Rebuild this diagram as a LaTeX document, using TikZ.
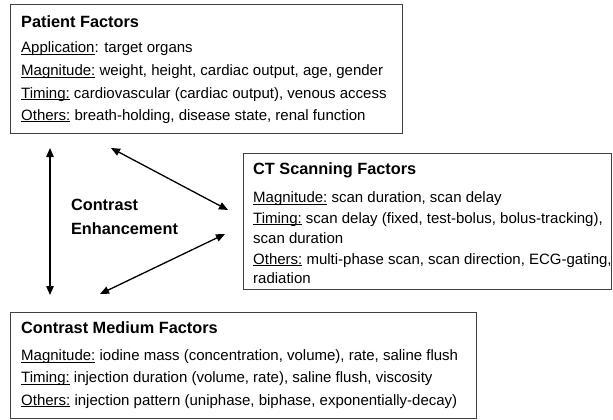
\documentclass[tikz,border=0pt]{standalone}
\usepackage{fontspec}
\setmainfont{Liberation Sans}
\usetikzlibrary{arrows.meta}

\newcommand{\lbl}[1]{\underline{\smash{#1}}}

\tikzset{
  box/.style={draw=black!75, line width=1.2pt, anchor=north west, inner sep=0pt},
  head/.style={anchor=base west, inner sep=0pt, font=\fontsize{16.3}{19}\selectfont\bfseries},
  txt/.style={anchor=base west, inner sep=0pt, font=\fontsize{15}{17}\selectfont},
  link/.style={{Triangle[length=9pt,width=7.5pt]}-{Triangle[length=9pt,width=7.5pt]}, line width=1.3pt},
}

\begin{document}
\begin{tikzpicture}[x=1pt,y=-1pt]
    \useasboundingbox (0,0) rectangle (613,420);

    % patient factors
    \node[box, minimum width=392pt, minimum height=129pt] (patient) at (10,4) {};
    \node[head] (ptitle) at (21,28) {Patient Factors};
    \node[txt] (p1) at (21,53) {\lbl{Application}: target organs};
    \node[txt] (p2) at (21,75.5) {\lbl{Magnitude:} weight, height, cardiac output, age, gender};
    \node[txt] (p3) at (21,98) {\lbl{Timing:} cardiovascular (cardiac output), venous access};
    \node[txt] (p4) at (21,120) {\lbl{Others:} breath-holding, disease state, renal function};

    % CT scanning factors
    \node[box, minimum width=368pt, minimum height=136pt] (scan) at (243,153) {};
    \node[head] (stitle) at (253,174) {CT Scanning Factors};
    \node[txt] (s1) at (253,202.5) {\lbl{Magnitude:} scan duration, scan delay};
    \node[txt] (s2) at (253,223) {\lbl{Timing:} scan delay (fixed, test-bolus, bolus-tracking),};
    \node[txt] (s3) at (253,243.5) {scan duration};
    \node[txt] (s4) at (253,264) {\lbl{Others:} multi-phase scan, scan direction, ECG-gating,};
    \node[txt] (s5) at (253,283.5) {radiation};

    % contrast medium factors
    \node[box, minimum width=466pt, minimum height=106pt] (medium) at (10,312) {};
    \node[head] (mtitle) at (21,333) {Contrast Medium Factors};
    \node[txt] (m1) at (21,360.5) {\lbl{Magnitude:} iodine mass (concentration, volume), rate, saline flush};
    \node[txt] (m2) at (21,382.5) {\lbl{Timing:} injection duration (volume, rate), saline flush, viscosity};
    \node[txt] (m3) at (21,405) {\lbl{Others:} injection pattern (uniphase, biphase, exponentially-decay)};

    \node[align=left, inner sep=0pt, font=\fontsize{16.3}{24}\selectfont\bfseries] (ce) at (124.5,217) {Contrast\\Enhancement};

    \coordinate (pL) at (50,148);
    \coordinate (mL) at (50,295);
    \coordinate (pR) at (111,148);
    \coordinate (sT) at (228,210);
    \coordinate (sB) at (225,234);
    \coordinate (mR) at (100,294);
    \draw[link] (pL) -- (mL);
    \draw[link] (pR) -- (sT);
    \draw[link] (sB) -- (mR);
\end{tikzpicture}
\end{document}
